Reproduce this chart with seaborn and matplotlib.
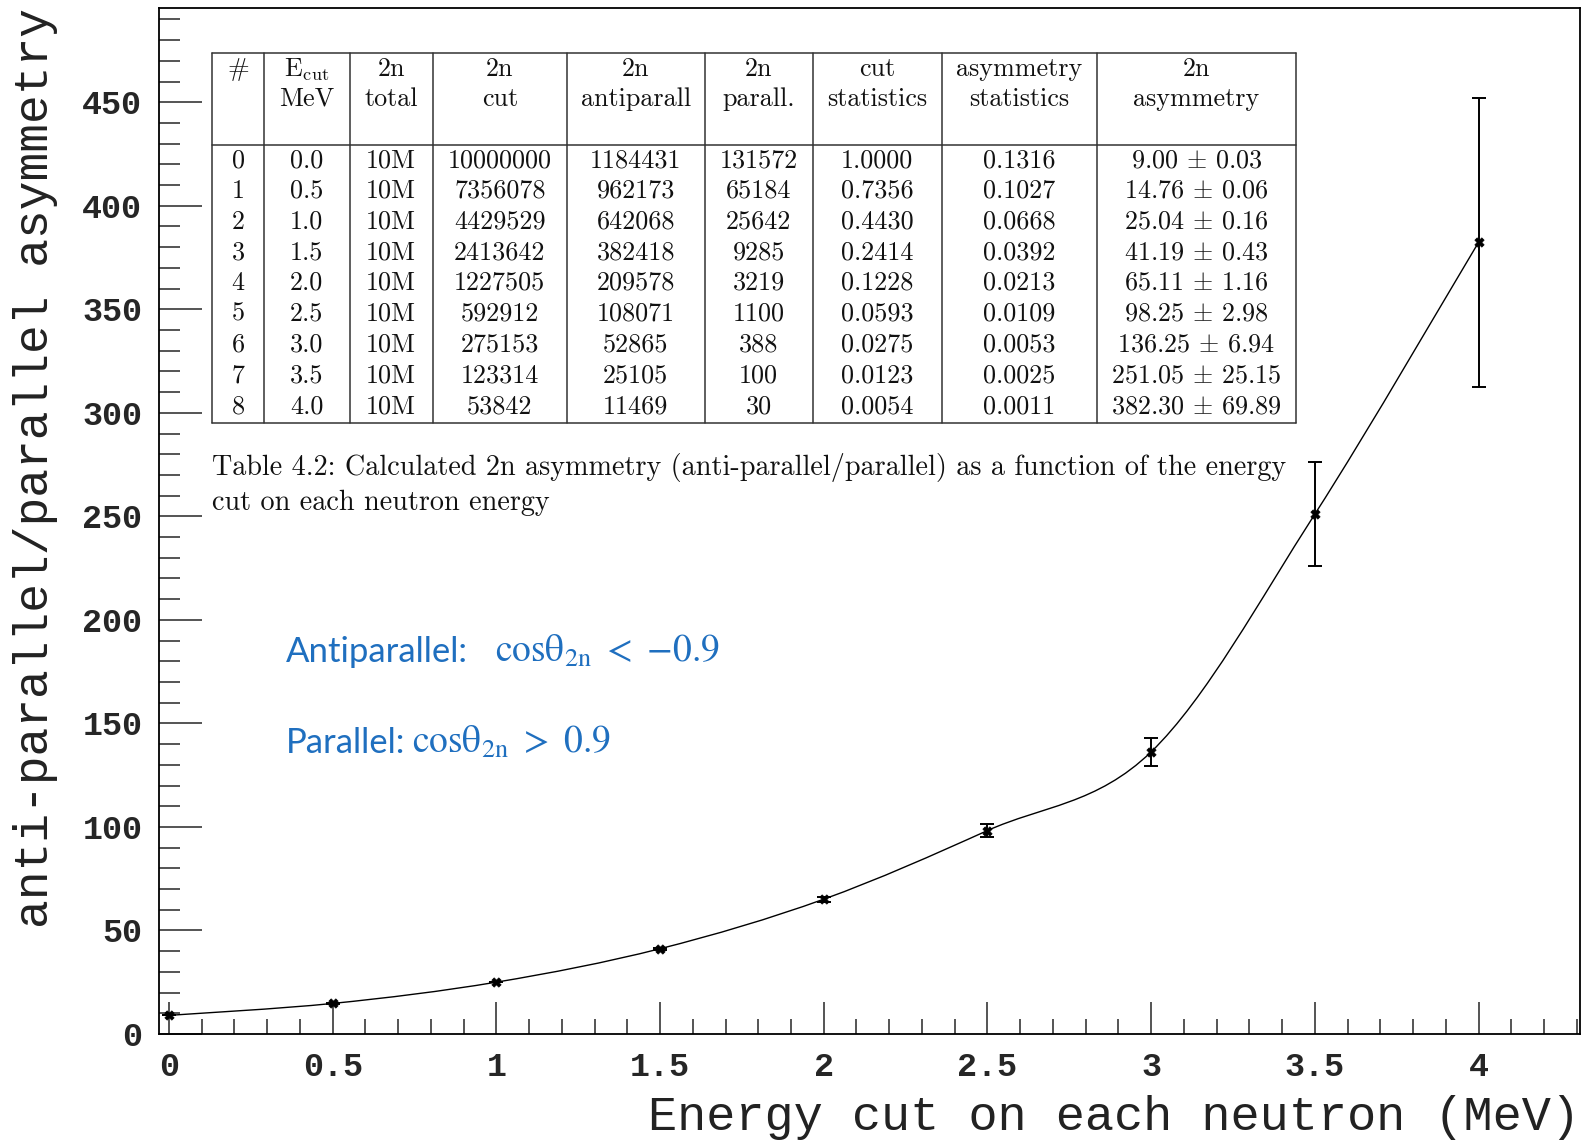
import numpy as np
import pandas as pd
import matplotlib
matplotlib.use("Agg")
import matplotlib.pyplot as plt
import seaborn as sns
from matplotlib.ticker import MultipleLocator, FuncFormatter
from matplotlib.path import Path
from matplotlib.patches import PathPatch
from matplotlib.lines import Line2D

# ---------------- data ----------------
row_id = ["0", "1", "2", "3", "4", "5", "6", "7", "8"]
e_cut = [0.0, 0.5, 1.0, 1.5, 2.0, 2.5, 3.0, 3.5, 4.0]
total_2n = ["10M"] * 9
cut_2n = ["10000000", "7356078", "4429529", "2413642", "1227505", "592912", "275153", "123314", "53842"]
antiparall_2n = ["1184431", "962173", "642068", "382418", "209578", "108071", "52865", "25105", "11469"]
parall_2n = ["131572", "65184", "25642", "9285", "3219", "1100", "388", "100", "30"]
cut_stat = ["1.0000", "0.7356", "0.4430", "0.2414", "0.1228", "0.0593", "0.0275", "0.0123", "0.0054"]
asym_stat = ["0.1316", "0.1027", "0.0668", "0.0392", "0.0213", "0.0109", "0.0053", "0.0025", "0.0011"]
asymmetry = [9.00, 14.76, 25.04, 41.19, 65.11, 98.25, 136.25, 251.05, 382.30]
asym_err = [0.03, 0.06, 0.16, 0.43, 1.16, 2.98, 6.94, 25.15, 69.89]

header_top = ["#", r"E$_{\rm cut}$", "2n", "2n", "2n", "2n", "cut", "asymmetry", "2n"]
header_bot = ["", "MeV", "total", "cut", "antiparall", "parall.", "statistics", "statistics", "asymmetry"]

caption_1 = "Table 4.2: Calculated 2n asymmetry (anti-parallel/parallel) as a function of the energy"
caption_2 = "cut on each neutron energy"
label_anti = "Antiparallel:"
math_anti = r"$\mathrm{cosθ}_{\mathrm{2n}}\ <\ {-}0.9$"
label_par = "Parallel:"
math_par = r"$\mathrm{cosθ}_{\mathrm{2n}}\ >\ 0.9$"

df = pd.DataFrame({"ecut": e_cut, "asym": asymmetry, "err": asym_err})

# ---------------- figure ----------------
sns.set_style("ticks")
plt.rcParams["mathtext.fontset"] = "cm"
plt.rcParams["axes.unicode_minus"] = False

W, H = 1585, 1143
fig = plt.figure(figsize=(W / 100, H / 100), dpi=100)
ax = fig.add_axes([159 / W, 1 - 1034 / H, (1580 - 159) / W, (1034 - 8) / H])

# smooth curve through the points (Catmull-Rom -> cubic Bezier)
px = np.asarray(df["ecut"], float)
py = np.asarray(df["asym"], float)
P = np.column_stack([px, py])
Pe = np.vstack([P[0], P, P[-1]])
verts = [tuple(P[0])]
codes = [Path.MOVETO]
for i in range(len(P) - 1):
    p0, p1, p2, p3 = Pe[i], Pe[i + 1], Pe[i + 2], Pe[i + 3]
    c1 = p1 + (p2 - p0) / 6.0
    c2 = p2 - (p3 - p1) / 6.0
    verts += [tuple(c1), tuple(c2), tuple(p2)]
    codes += [Path.CURVE4] * 3
ax.add_patch(PathPatch(Path(verts, codes), facecolor="none", edgecolor="black", lw=1.0, zorder=2))

ax.errorbar(df["ecut"], df["asym"], yerr=df["err"], fmt="none", ecolor="black",
            elinewidth=1.4, capsize=5, capthick=1.4, zorder=3)
sns.scatterplot(data=df, x="ecut", y="asym", marker="X", s=45, color="black",
                edgecolor="black", linewidth=0.5, ax=ax, zorder=4, legend=False)

ax.set_xlim(-0.0305, 4.31)
ax.set_ylim(0, 495.5)

ax.xaxis.set_major_locator(MultipleLocator(0.5))
ax.xaxis.set_minor_locator(MultipleLocator(0.1))
ax.yaxis.set_major_locator(MultipleLocator(50))
ax.yaxis.set_minor_locator(MultipleLocator(10))
ax.xaxis.set_major_formatter(FuncFormatter(lambda v, p: "%g" % v))
ax.yaxis.set_major_formatter(FuncFormatter(lambda v, p: "%g" % v))

ax.tick_params(axis="x", which="major", direction="in", length=23, width=1.1, pad=13,
               top=False, labelsize=24)
ax.tick_params(axis="x", which="minor", direction="in", length=11, width=1.1, top=False)
ax.tick_params(axis="y", which="major", direction="in", length=31, width=1.1, pad=12,
               right=False, labelsize=24)
ax.tick_params(axis="y", which="minor", direction="in", length=15, width=1.1, right=False)
for lab in ax.get_xticklabels() + ax.get_yticklabels():
    lab.set_fontfamily("Liberation Mono")
    lab.set_fontweight("bold")

for s in ax.spines.values():
    s.set_visible(True)
    s.set_linewidth(1.3)
    s.set_color("black")

ax.set_xlabel("Energy cut on each neutron (MeV)", fontfamily="Liberation Mono",
              fontsize=35, loc="right", color="#222222", va="bottom")
ax.xaxis.set_label_coords(1.0, -0.1035)
ax.set_ylabel("anti-parallel/parallel asymmetry", fontfamily="Liberation Mono",
              fontsize=34.5, loc="top", color="#222222")
ax.yaxis.set_label_coords(-0.071, 1.0)

# ---------------- table ----------------
def fx(v):
    return v / W

def fy(v):
    return 1 - v / H

col_edges = [212.3, 263.8, 349.7, 432.6, 567.1, 704.5, 812.7, 942.1, 1096.7, 1295.7]
tab_top, head_bot, tab_bot = 52.6, 144.5, 422.5
row_y = [160.5, 191.0, 221.8, 252.5, 283.0, 313.8, 344.8, 375.8, 406.6]
lc = "#333333"
for xe in col_edges:
    fig.add_artist(Line2D([fx(xe), fx(xe)], [fy(tab_top), fy(tab_bot)], color=lc, lw=1.1))
for ye in (tab_top, head_bot, tab_bot):
    fig.add_artist(Line2D([fx(col_edges[0]), fx(col_edges[-1])], [fy(ye), fy(ye)], color=lc, lw=1.1))

tfont = dict(fontfamily="cmr10", fontsize=18.8, color="#111111", ha="center", va="center")
centers = [(col_edges[i] + col_edges[i + 1]) / 2 for i in range(len(col_edges) - 1)]
for c, t1, t2 in zip(centers, header_top, header_bot):
    fig.text(fx(c), fy(69.5), t1, **tfont)
    if t2:
        fig.text(fx(c), fy(99), t2, **tfont)

columns = [row_id, ["%.1f" % v for v in e_cut], total_2n, cut_2n, antiparall_2n, parall_2n,
           cut_stat, asym_stat,
           [r"%.2f $\pm$ %.2f" % (a, e) for a, e in zip(asymmetry, asym_err)]]
for c, col in zip(centers, columns):
    for yy, val in zip(row_y, col):
        fig.text(fx(c), fy(yy), val, **tfont)

cfont = dict(fontfamily="cmr10", fontsize=20.3, color="#111111", ha="left", va="center")
fig.text(fx(212), fy(468), caption_1, **cfont)
fig.text(fx(212), fy(503), caption_2, **cfont)

# ---------------- annotations ----------------
blue = "#1F6FBF"
fig.text(fx(286), fy(652), label_anti, fontfamily="Lato", fontsize=25, color=blue,
         ha="left", va="center")
fig.text(fx(495), fy(652), math_anti, fontsize=27, color=blue,
         ha="left", va="center", math_fontfamily="stix")
fig.text(fx(286), fy(743), label_par, fontfamily="Lato", fontsize=25, color=blue,
         ha="left", va="center")
fig.text(fx(412), fy(743), math_par, fontsize=27, color=blue,
         ha="left", va="center", math_fontfamily="stix")

fig.savefig("out.png", dpi=100)
